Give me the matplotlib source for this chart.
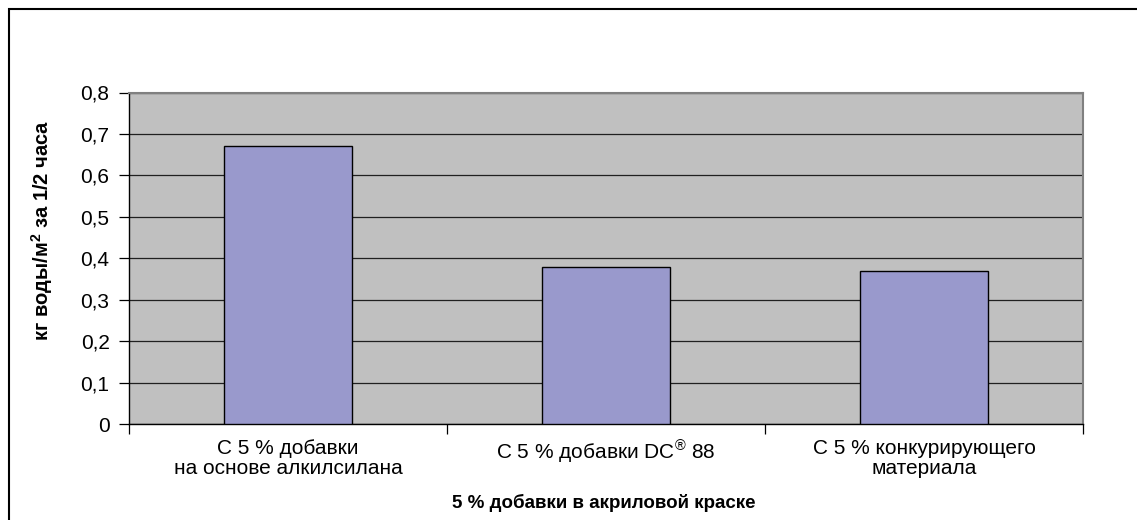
import matplotlib
matplotlib.use("Agg")
import matplotlib.pyplot as plt
from matplotlib.patches import Rectangle
from matplotlib.ticker import FixedLocator, FuncFormatter

plt.rcParams['font.family'] = ['Liberation Sans', 'DejaVu Sans']
plt.rcParams['mathtext.fontset'] = 'custom'
plt.rcParams['mathtext.rm'] = 'Liberation Sans'
plt.rcParams['mathtext.it'] = 'Liberation Sans:italic'
plt.rcParams['mathtext.bf'] = 'Liberation Sans:bold'

# data
categories = [
    "С 5 % добавки\nна основе алкилсилана",
    "С 5 % добавки DC$^{\\circledR}$ 88",
    "С 5 % конкурирующего\nматериала",
]
values = [0.67, 0.38, 0.37]
y_ticks = [0, 0.1, 0.2, 0.3, 0.4, 0.5, 0.6, 0.7, 0.8]
y_label = "кг воды/м$^\\mathbf{2}$ за 1/2 часа"
x_label = "5 % добавки в акриловой краске"

W, H = 1137, 520
fig = plt.figure(figsize=(W / 100, H / 100), dpi=100)
ax = fig.add_axes([129 / W, 1 - 424 / H, (1083 - 129) / W, (424 - 92.5) / H])

ax.set_facecolor("#C0C0C0")
x = list(range(len(categories)))
ax.bar(x, values, width=0.4, color="#9999CC", edgecolor="black", linewidth=1.0, zorder=3)

ax.set_xlim(-0.5, len(categories) - 0.5)
ax.set_ylim(0, 0.8)
ax.set_yticks(y_ticks)
ax.yaxis.set_major_formatter(FuncFormatter(lambda v, p: ("%g" % round(v, 1)).replace(".", ",")))
ax.grid(axis="y", color="#202020", linewidth=0.9, zorder=1)

ax.set_xticks(x)
ax.set_xticklabels(categories, fontsize=15, linespacing=1.05)
ax.xaxis.set_minor_locator(FixedLocator([i - 0.5 for i in range(len(categories) + 1)]))
ax.tick_params(axis="x", which="major", length=0, pad=11)
ax.tick_params(axis="x", which="minor", length=7, width=0.9, direction="out")
ax.tick_params(axis="y", length=7, width=0.9, direction="out", labelsize=15, pad=7)

for side in ["top", "right"]:
    ax.spines[side].set_color("#808080")
    ax.spines[side].set_linewidth(1.5)
for side in ["left", "bottom"]:
    ax.spines[side].set_color("black")
    ax.spines[side].set_linewidth(1.0)

fig.text(42 / W, 1 - 230 / H, y_label, rotation=90, ha="center", va="center",
         fontsize=14.5, fontweight="bold")
fig.text(604 / W, 1 - 503 / H, x_label, ha="center", va="center",
         fontsize=13.5, fontweight="bold")

# outer chart frame
fig.patches.append(Rectangle((9 / W, -0.1), 1.2, 1.1 - 9 / H, transform=fig.transFigure,
                             fill=False, edgecolor="black", linewidth=1.5))

fig.savefig("out.png", dpi=100)
